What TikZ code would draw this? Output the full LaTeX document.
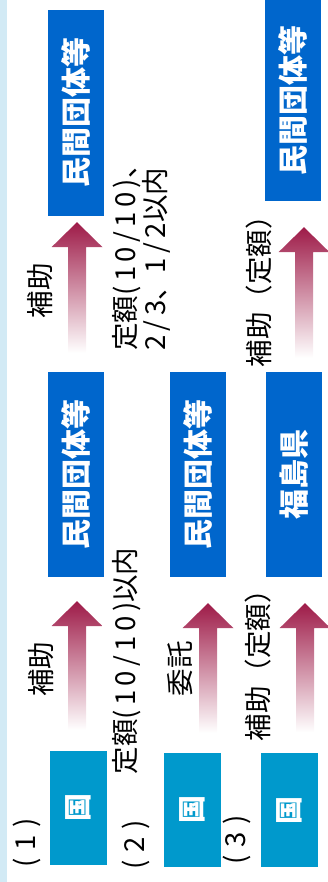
\documentclass[tikz,border=0pt]{standalone}
\usepackage{fontspec}
\setmainfont{Noto Sans CJK JP}
\usetikzlibrary{calc}
\definecolor{govblue}{RGB}{0,153,204}
\definecolor{orgblue}{RGB}{0,102,204}
\definecolor{stripblue}{RGB}{210,234,245}
\definecolor{arrowred}{RGB}{158,27,72}
\newcommand\wlat[1]{{\addfontfeature{LetterSpace=16}#1}}
\newcommand\rownum[1]{(\hspace{0.28em}#1\hspace{0.28em})}

\tikzset{
  govbox/.style={fill=govblue,text=white,font=\bfseries\fontsize{28}{28}\selectfont,
    rotate=90,minimum width=114pt,minimum height=57pt,inner sep=0pt},
  orgbox/.style={fill=orgblue,text=white,font=\bfseries\fontsize{30}{30}\selectfont,
    rotate=90,minimum width=205pt,minimum height=56pt,inner sep=0pt},
  lbl/.style={rotate=90,font=\fontsize{27.5}{30}\selectfont,inner sep=0pt},
  liftshade/.style={top color=arrowred,bottom color=white}
}

% fat arrow from node #1 up to node #2, x offset #3, gaps #4 and #5
\newcommand\lift[5]{%
  \shade[liftshade] let \p1=($(#1.east)+(#3,#4)$), \p2=($(#2.west)+(#3,-#5)$) in
    (\x1-9pt,\y1) -- (\x1-9pt,\y2-25pt) -- (\x1-25.5pt,\y2-25pt) -- (\x1,\y2)
    -- (\x1+25.5pt,\y2-25pt) -- (\x1+9pt,\y2-25pt) -- (\x1+9pt,\y1) -- cycle;}

\begin{document}
\begin{tikzpicture}[x=1pt,y=1pt]
  \useasboundingbox (0,0) rectangle (328,882);
  \clip (0,0) rectangle (328,882);
  \fill[stripblue] (0,0) rectangle (7,882);

  % (1)
  \node[lbl] (n1) at (26.5,39) {\rownum{1}};
  \node[govbox] (g1) at (78.5,74) {国};
  \node[orgbox] (m1) at (76,407.5) {民間団体等};
  \node[orgbox,minimum width=206pt] (m1t) at (76,769) {民間団体等};
  \node[lbl] (h1) at (41.5,212.5) {補助};
  \node[lbl] (r1) at (127,221) {定額\wlat{(10/10)}以内};
  \node[lbl] (h1t) at (40,591) {補助};
  \node[lbl,align=left] (r1t) at (141,631) {定額\wlat{(10/10)}、\\\wlat{2/3}、\wlat{1/2}以内};

  % (2)
  \node[lbl] (n2) at (136,37) {\rownum{2}};
  \node[govbox] (g2) at (192.5,72) {国};
  \node[orgbox] (m2) at (198,407.5) {民間団体等};
  \node[lbl] (w2) at (180,213) {委託};

  % (3)
  \node[lbl] (n3) at (237,42) {\rownum{3}};
  \node[govbox] (g3) at (289.5,71.5) {国};
  \node[orgbox] (m3) at (294,407.5) {福島県};
  \node[orgbox,minimum width=201pt] (m3t) at (293,781.5) {民間団体等};
  \node[lbl] (h3) at (258,223) {補助（定額）};
  \node[lbl] (h3t) at (259,597) {補助（定額）};

  \lift{g1}{m1}{-1.5}{21}{24}
  \lift{m1}{m1t}{1}{19}{6}
  \lift{g2}{m2}{15.5}{20}{26}
  \lift{g3}{m3}{15.5}{21}{26}
  \lift{m3}{m3t}{10}{14}{26}
\end{tikzpicture}
\end{document}
